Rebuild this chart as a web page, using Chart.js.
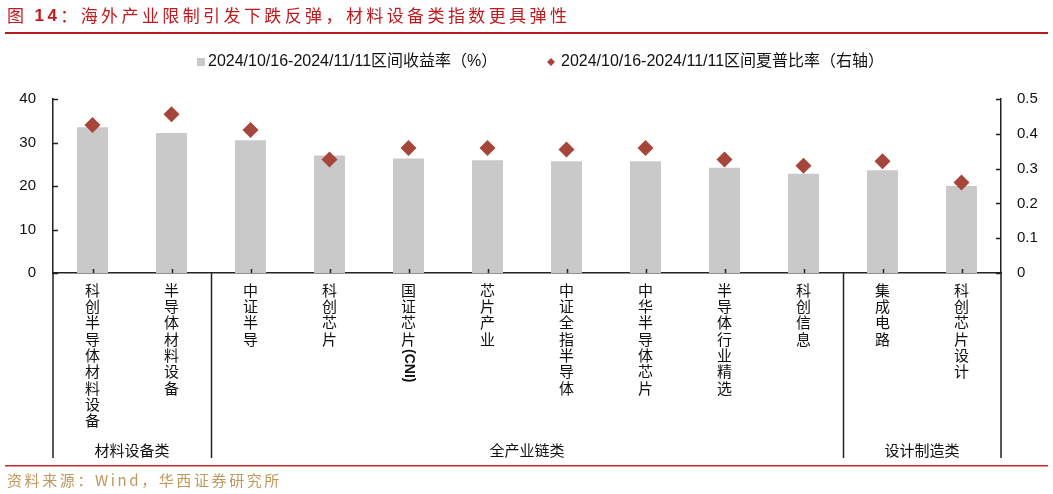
<!DOCTYPE html>
<html lang="zh">
  <head>
    <meta charset="utf-8" />
    <script src="https://cdn.jsdelivr.net/npm/chart.js"></script>
    <title>图 14</title>
    <style>
      html, body { margin: 0; padding: 0; background: #fff; }
      #wrap { width: 1053px; height: 494px; }
    </style>
  </head>
  <body>
    <div id="wrap"><canvas id="myChart"></canvas></div>
    <script>
      // 数据
      var categories = ['科创半导体材料设备', '半导体材料设备', '中证半导', '科创芯片', '国证芯片(CNI)', '芯片产业',
        '中证全指半导体', '中华半导体芯片', '半导体行业精选', '科创信息', '集成电路', '科创芯片设计'];
      var returns = [33.5, 32.2, 30.5, 27.0, 26.3, 25.9, 25.7, 25.7, 24.2, 22.8, 23.6, 20.0];
      var sharpe = [0.425, 0.456, 0.411, 0.326, 0.359, 0.359, 0.355, 0.359, 0.326, 0.308, 0.321, 0.260];
      var seriesLabels = ['2024/10/16-2024/11/11区间收益率（%）', '2024/10/16-2024/11/11区间夏普比率（右轴）'];
      var leftTicks = [0, 10, 20, 30, 40];
      var rightTicks = ['0', '0.1', '0.2', '0.3', '0.4', '0.5'];
      var groups = [
        { name: '材料设备类', from: 0, to: 1 },
        { name: '全产业链类', from: 2, to: 9 },
        { name: '设计制造类', from: 10, to: 11 }
      ];
      var titleParts = ['图 ', '14', '：海外产业限制引发下跌反弹，材料设备类指数更具弹性'];
      var source = '资料来源：Wind，华西证券研究所';

      var axisColor = '#222';
      var sansFont = '"Liberation Sans", "Noto Sans CJK SC", sans-serif';
      var cjkFont = '"Noto Sans CJK SC", sans-serif';

      // 画坐标轴外的文字、刻度、分组线
      var decor = {
        id: 'decor',
        afterDraw: function (chart) {
          var ctx = chart.ctx;
          var area = chart.chartArea;
          var x = chart.scales.x, y = chart.scales.y, y1 = chart.scales.y1;
          ctx.save();

          // 标题
          ctx.fillStyle = '#C0191E';
          ctx.textAlign = 'left';
          ctx.textBaseline = 'middle';
          ctx.letterSpacing = '3.4px';
          var tx = 7;
          titleParts.forEach(function (p, i) {
            ctx.font = i === 1 ? 'bold 17px ' + sansFont : '17px ' + cjkFont;
            ctx.fillText(p, tx, 16);
            tx += ctx.measureText(p).width;
          });
          ctx.letterSpacing = '0px';
          ctx.fillStyle = '#B71C1C';
          ctx.fillRect(5, 32, 1043, 2);

          // 图例
          var ds = chart.data.datasets;
          ctx.font = '16px ' + sansFont;
          ctx.fillStyle = ds[0].backgroundColor;
          ctx.fillRect(197, 58, 8, 8);
          ctx.fillStyle = '#111';
          ctx.fillText(ds[0].label, 208, 62);
          ctx.fillStyle = ds[1].backgroundColor;
          ctx.beginPath();
          ctx.moveTo(551, 58); ctx.lineTo(555, 62); ctx.lineTo(551, 66); ctx.lineTo(547, 62);
          ctx.closePath();
          ctx.fill();
          ctx.fillStyle = '#111';
          ctx.fillText(ds[1].label, 561, 62);

          // 刻度线（朝内）
          ctx.strokeStyle = axisColor;
          ctx.lineWidth = 1.5;
          ctx.beginPath();
          y.ticks.forEach(function (t) {
            var py = Math.round(y.getPixelForValue(t.value)) + 0.5;
            ctx.moveTo(area.left, py); ctx.lineTo(area.left + 5, py);
          });
          y1.ticks.forEach(function (t) {
            var py = Math.round(y1.getPixelForValue(t.value)) + 0.5;
            ctx.moveTo(area.right, py); ctx.lineTo(area.right - 5, py);
          });
          categories.forEach(function (c, i) {
            var px = Math.round(x.getPixelForValue(i)) + 0.5;
            ctx.moveTo(px, area.bottom); ctx.lineTo(px, area.bottom - 4);
          });
          // 轴线向下延伸 + 分组分隔线
          var step = (area.right - area.left) / categories.length;
          var bottomY = 458;
          ctx.moveTo(area.left, area.bottom); ctx.lineTo(area.left, bottomY);
          ctx.moveTo(area.right, area.bottom); ctx.lineTo(area.right, bottomY);
          groups.forEach(function (g, gi) {
            if (gi > 0) {
              var dx = Math.round(area.left + g.from * step) + 0.5;
              ctx.moveTo(dx, area.bottom); ctx.lineTo(dx, bottomY);
            }
          });
          ctx.stroke();

          // 分类标签（竖排）
          ctx.fillStyle = '#111';
          ctx.textAlign = 'center';
          ctx.textBaseline = 'middle';
          var lineH = 16.3;
          categories.forEach(function (c, i) {
            var px = x.getPixelForValue(i);
            var py = 290;
            var m = c.match(/^([^\(]*)(\(.*\))?$/);
            ctx.font = '15px ' + cjkFont;
            Array.from(m[1]).forEach(function (ch) {
              ctx.fillText(ch, px, py);
              py += lineH;
            });
            if (m[2]) {
              ctx.save();
              ctx.font = 'bold 14px ' + sansFont;
              ctx.translate(px, py - lineH / 2 + 2);
              ctx.rotate(Math.PI / 2);
              ctx.textAlign = 'left';
              ctx.fillText(m[2], 0, 0);
              ctx.restore();
            }
          });

          // 分组名称
          ctx.font = '15px ' + cjkFont;
          groups.forEach(function (g) {
            var gx = area.left + (g.from + g.to + 1) / 2 * step;
            ctx.fillText(g.name, gx, 450);
          });

          // 底部红线与资料来源
          ctx.fillStyle = '#C62828';
          ctx.fillRect(5, 465, 1043, 1.5);
          ctx.fillStyle = '#BE985C';
          ctx.font = '15px ' + cjkFont;
          ctx.letterSpacing = '2.6px';
          ctx.textAlign = 'left';
          ctx.fillText(source, 7, 480);
          ctx.restore();
        }
      };

      var ctx = document.getElementById('myChart').getContext('2d');
      var myChart = new Chart(ctx, {
        type: 'bar',
        data: {
          labels: categories,
          datasets: [{
            type: 'bar',
            label: seriesLabels[0],
            data: returns,
            backgroundColor: '#C9C9C9',
            yAxisID: 'y',
            barPercentage: 0.392,
            categoryPercentage: 1,
            order: 2
          }, {
            type: 'line',
            label: seriesLabels[1],
            data: sharpe,
            yAxisID: 'y1',
            showLine: false,
            pointStyle: 'rectRot',
            pointRadius: 8,
            pointHoverRadius: 8,
            pointBorderWidth: 0,
            backgroundColor: '#A6453A',
            borderColor: '#A6453A',
            order: 1
          }]
        },
        options: {
          responsive: true,
          maintainAspectRatio: false,
          animation: false,
          layout: { padding: { top: 99, bottom: 221, left: 0, right: 0 } },
          plugins: { legend: { display: false }, tooltip: { enabled: false } },
          scales: {
            x: {
              offset: true,
              grid: { display: false },
              ticks: { display: false },
              border: { display: true, color: axisColor, width: 1.5 },
              afterFit: function (s) { s.height = 0; }
            },
            y: {
              position: 'left',
              min: 0,
              max: 40,
              afterBuildTicks: function (s) { s.ticks = leftTicks.map(function (v) { return { value: v }; }); },
              ticks: { padding: 17, color: '#111', font: { size: 15, family: sansFont } },
              grid: { display: false, drawTicks: false },
              border: { display: true, color: axisColor, width: 1.5 },
              afterFit: function (s) { s.width = 53; }
            },
            y1: {
              position: 'right',
              min: 0,
              max: 0.5,
              afterBuildTicks: function (s) { s.ticks = rightTicks.map(function (v) { return { value: parseFloat(v) }; }); },
              ticks: {
                padding: 16,
                color: '#111',
                font: { size: 15, family: sansFont },
                callback: function (v, i) { return rightTicks[i]; }
              },
              grid: { display: false, drawTicks: false },
              border: { display: true, color: axisColor, width: 1.5 },
              afterFit: function (s) { s.width = 52; }
            }
          }
        },
        plugins: [decor]
      });
    </script>
  </body>
</html>
